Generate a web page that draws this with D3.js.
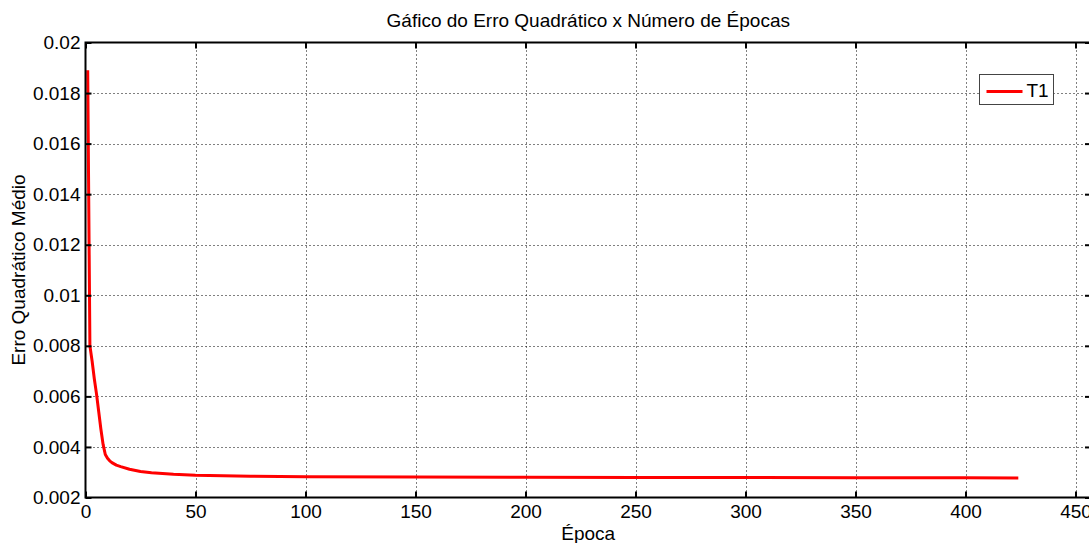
<!DOCTYPE html>
<html><head><meta charset="utf-8">
<script src="https://cdn.jsdelivr.net/npm/d3@7/dist/d3.min.js"></script>
<style>
html,body{margin:0;padding:0;background:#fff;}
text{font-family:"Liberation Sans",Arial,sans-serif;fill:#000;}
</style></head>
<body>
<svg id="chart" width="1089" height="543"></svg>
<script>
// ---- data ----
const epochs = [1, 2, 3, 4, 5, 6, 7, 8, 9, 10, 11, 12, 14, 16, 20, 25, 30, 40, 50, 75, 100, 150, 200, 250, 300, 350, 400, 424];
const mse    = [0.0189, 0.0080, 0.0074, 0.0067, 0.0061, 0.0054, 0.0047, 0.0041, 0.0037, 0.00355, 0.00345, 0.00338, 0.00328, 0.00322, 0.00312, 0.00303, 0.00298, 0.00292, 0.00288, 0.00284, 0.00282, 0.00281, 0.00280, 0.00279, 0.00279, 0.00278, 0.00278, 0.00277];
const xTicks = [0, 50, 100, 150, 200, 250, 300, 350, 400, 450];
const xTickLabels = ["0", "50", "100", "150", "200", "250", "300", "350", "400", "450"];
const yTicks = [0.002, 0.004, 0.006, 0.008, 0.010, 0.012, 0.014, 0.016, 0.018, 0.020];
const yTickLabels = ["0.002", "0.004", "0.006", "0.008", "0.01", "0.012", "0.014", "0.016", "0.018", "0.02"];
const seriesName = "T1";
const titleText = "Gáfico do Erro Quadrático x Número de Épocas";
const xLabelText = "Época";
const yLabelText = "Erro Quadrático Médio";

// ---- layout ----
const L = 85.5, T = 42.5, B = 497.5, R = 1091;
const x = d3.scaleLinear().domain([0, 450]).range([L, 1075.5]);
const y = d3.scaleLinear().domain([0.002, 0.02]).range([B, T]);
const svg = d3.select("#chart");
const FS = 19;

// grid
const grid = svg.append("g").attr("stroke", "#000").attr("stroke-width", 1).attr("stroke-dasharray", "1,3");
grid.selectAll("line.v").data(xTicks.slice(1)).join("line")
  .attr("x1", d => Math.round(x(d)) + 0.5).attr("x2", d => Math.round(x(d)) + 0.5)
  .attr("y1", T).attr("y2", B);
grid.selectAll("line.h").data(yTicks.slice(1, -1)).join("line")
  .attr("x1", L).attr("x2", R)
  .attr("y1", d => Math.round(y(d)) + 0.5).attr("y2", d => Math.round(y(d)) + 0.5);

// data line
svg.append("path")
  .datum(epochs.map((e, i) => [e, mse[i]]))
  .attr("fill", "none").attr("stroke", "#ff0000").attr("stroke-width", 3)
  .attr("stroke-linejoin", "round")
  .attr("d", d3.line().x(d => x(d[0])).y(d => y(d[1])));

// axes with inward ticks
const xAxisB = d3.axisBottom(x).tickValues(xTicks).tickSize(-6).tickPadding(7)
  .tickFormat((d, i) => xTickLabels[i]);
const gx = svg.append("g").attr("transform", `translate(0,${B})`).call(xAxisB);
const yAxisL = d3.axisLeft(y).tickValues(yTicks).tickSize(-6).tickPadding(5)
  .tickFormat((d, i) => yTickLabels[i]);
const gy = svg.append("g").attr("transform", `translate(${L},0)`).call(yAxisL);
const xAxisT = d3.axisTop(x).tickValues(xTicks).tickSize(-6).tickFormat("");
const gxt = svg.append("g").attr("transform", `translate(0,${T})`).call(xAxisT);
const yAxisR = d3.axisRight(y).tickValues(yTicks).tickSize(-6).tickFormat("");
const gyr = svg.append("g").attr("transform", `translate(${R},0)`).call(yAxisR);
[gx, gy, gxt, gyr].forEach(g => {
  g.select(".domain").remove();
  g.selectAll(".tick line").attr("stroke", "#000").attr("stroke-width", 2);
  g.selectAll("text").attr("font-size", FS).attr("font-family", "Liberation Sans, Arial, sans-serif").attr("fill", "#000");
});

// frame
svg.append("rect").attr("x", L).attr("y", T).attr("width", R - L).attr("height", B - T)
  .attr("fill", "none").attr("stroke", "#000").attr("stroke-width", 2);

// title & labels
svg.append("text").attr("x", (L + R) / 2).attr("y", 27).attr("text-anchor", "middle")
  .attr("font-size", FS).text(titleText);
svg.append("text").attr("x", (L + R) / 2).attr("y", 540).attr("text-anchor", "middle")
  .attr("font-size", FS).text(xLabelText);
svg.append("text").attr("transform", `translate(24.5,${(T + B) / 2}) rotate(-90)`)
  .attr("text-anchor", "middle").attr("font-size", FS).text(yLabelText);

// legend
const lg = svg.append("g").attr("transform", "translate(979.5,74.5)");
lg.append("rect").attr("width", 74).attr("height", 30).attr("fill", "#fff").attr("stroke", "#444").attr("stroke-width", 1);
lg.append("line").attr("x1", 7).attr("x2", 43).attr("y1", 17).attr("y2", 17).attr("stroke", "#ff0000").attr("stroke-width", 3);
lg.append("text").attr("x", 47).attr("y", 22).attr("font-size", FS).text(seriesName);
</script>
</body></html>
